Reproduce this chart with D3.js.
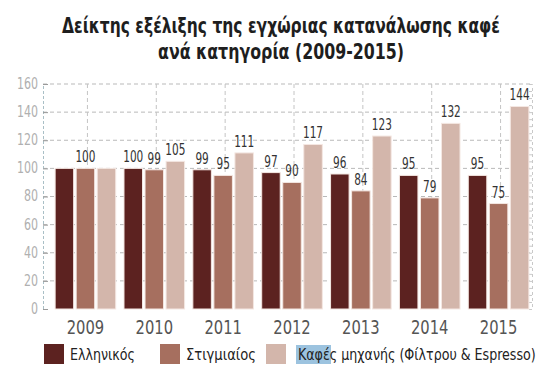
<!DOCTYPE html>
<html>
<head>
<meta charset="utf-8">
<script src="https://cdn.jsdelivr.net/npm/d3@7"></script>
<style>
  body { margin: 0; background: #fff; }
  svg { display: block; }
</style>
</head>
<body>
<div id="chart"></div>
<script>
// chart data
const years = ['2009', '2010', '2011', '2012', '2013', '2014', '2015'];
const seriesNames = ['Ελληνικός', 'Στιγμιαίος', 'Καφές μηχανής (Φίλτρου & Espresso)'];
const greek = [100, 100, 99, 97, 96, 95, 95];
const instant = [100, 99, 95, 90, 84, 79, 75];
const machine = [100, 105, 111, 117, 123, 132, 144];
const yTicks = [0, 20, 40, 60, 80, 100, 120, 140, 160];
// 2009 shows one shared label only (over the middle bar)
const hiddenLabels = [['2009', 0], ['2009', 2]];
const titleLines = ['Δείκτης εξέλιξης της εγχώριας κατανάλωσης καφέ', 'ανά κατηγορία (2009-2015)'];

const width = 543, height = 372;
const margins = {top: 84, right: 11, bottom: 63, left: 43};
const colors = ['#5c2220', '#a66f5f', '#d3b6ab'];
const font = '"DejaVu Sans Condensed", sans-serif';

/* squeeze a text horizontally around its x: the reference uses a narrow face.
   target is either a factor (<= 1) or a function giving a pixel width */
const squeeze = (sel, target) => sel.each(function(d, i) {
    const w = this.getComputedTextLength();
    const s = typeof target === 'function' ? target(d, i) / w : target;
    const x = +this.getAttribute('x') || 0;
    d3.select(this)
        .attr('transform', `translate(${x},0) scale(${s},1) translate(${-x},0)`);
});

const svg = d3.select('#chart')
    .append('svg')
    .attr('width', width)
    .attr('height', height);

/* title */
const titleWidths = [438, 246];
svg.append('g')
    .selectAll('text')
    .data(titleLines)
    .join('text')
    .attr('x', 281)
    .attr('y', (d, i) => 33 + i * 26)
    .attr('text-anchor', 'middle')
    .style('font-family', font)
    .style('font-weight', 'bold')
    .style('font-size', '21px')
    .style('fill', '#1e1e1e')
    .text(d => d)
    .call(squeeze, (d, i) => titleWidths[i]);

/* scales */
const yScale = d3.scaleLinear()
    .domain([0, 160])
    .range([height - margins.bottom, margins.top]);

const x0 = d3.scaleBand()
    .domain(years)
    .range([51, 533])
    .paddingInner(0.12)
    .paddingOuter(0.06);

const x1 = d3.scaleBand()
    .domain([0, 1, 2])
    .range([0, x0.bandwidth()])
    .paddingInner(0.12);

const color = d3.scaleOrdinal()
    .domain([0, 1, 2])
    .range(colors);

/* grid */
const grid = svg.append('g').attr('class', 'grid');
grid.selectAll('line.h')
    .data(yTicks.filter(d => d > 0))
    .join('line')
    .attr('class', 'h')
    .attr('x1', margins.left)
    .attr('x2', width - margins.right)
    .attr('y1', d => yScale(d))
    .attr('y2', d => yScale(d))
    .attr('stroke', '#b9b9b9')
    .attr('stroke-dasharray', '4,3');
grid.selectAll('line.v')
    .data(years)
    .join('line')
    .attr('class', 'v')
    .attr('x1', d => x0(d) + x0.bandwidth() / 2 + 2)
    .attr('x2', d => x0(d) + x0.bandwidth() / 2 + 2)
    .attr('y1', yScale(160))
    .attr('y2', yScale(0))
    .attr('stroke', '#c4c4c4')
    .attr('stroke-dasharray', '4,3');

/* axes */
const yAxis = d3.axisRight(yScale).tickValues(yTicks).tickSize(5).tickFormat('');
const yGroup = svg.append('g')
    .attr('transform', `translate(${margins.left},0)`)
    .call(yAxis);
yGroup.select('.domain')
    .attr('stroke', '#a9bfc6')
    .attr('stroke-dasharray', '3,2');
yGroup.selectAll('.tick line').attr('stroke', '#9a9a9a');

svg.append('g')
    .selectAll('text')
    .data(yTicks)
    .join('text')
    .attr('x', 38)
    .attr('y', d => yScale(d) + 5)
    .attr('text-anchor', 'end')
    .style('font-family', font)
    .style('font-size', '15px')
    .style('fill', '#b0b0b0')
    .text(d => d)
    .call(squeeze, 0.82);

const rGroup = svg.append('g')
    .attr('transform', `translate(${width - margins.right},0)`)
    .call(d3.axisLeft(yScale).ticks(32).tickSize(3).tickFormat(''));
rGroup.select('.domain')
    .attr('stroke', '#c9c9c9')
    .attr('stroke-dasharray', '3,3');
rGroup.selectAll('.tick line').attr('stroke', '#c9c9c9');

/* bars */
const rows = years.map((y, i) => ({year: y, values: [greek[i], instant[i], machine[i]]}));

const groups = svg.append('g')
    .attr('class', 'bars')
    .selectAll('g')
    .data(rows)
    .join('g')
    .attr('transform', d => `translate(${x0(d.year)},0)`);

groups.selectAll('rect')
    .data(d => d.values.map((v, k) => ({year: d.year, k: k, value: v})))
    .join('rect')
    .attr('x', d => x1(d.k))
    .attr('y', d => yScale(d.value))
    .attr('width', x1.bandwidth())
    .attr('height', d => yScale(0) - yScale(d.value))
    .attr('fill', d => color(d.k))
    .attr('stroke', '#f4e7e2')
    .attr('stroke-width', 1);

groups.selectAll('text')
    .data(d => d.values.map((v, k) => ({year: d.year, k: k, value: v}))
        .filter(e => !hiddenLabels.some(h => h[0] === e.year && h[1] === e.k)))
    .join('text')
    .attr('x', d => x1(d.k) + x1.bandwidth() / 2)
    .attr('y', d => yScale(d.value) - 6)
    .attr('text-anchor', 'middle')
    .style('font-family', font)
    .style('font-size', '15px')
    .style('fill', '#333')
    .text(d => d.value)
    .call(squeeze, 0.78);

/* year labels */
svg.append('g')
    .selectAll('text')
    .data(years)
    .join('text')
    .attr('x', d => x0(d) + x0.bandwidth() / 2)
    .attr('y', 334)
    .attr('text-anchor', 'middle')
    .style('font-family', font)
    .style('font-size', '20px')
    .style('fill', '#555')
    .text(d => d)
    .call(squeeze, 0.82);

/* legend */
const legendX = [44, 160, 266];
const legendWidths = [65, 70, 238];
const legend = svg.append('g')
    .selectAll('g')
    .data(seriesNames)
    .join('g')
    .attr('transform', (d, i) => `translate(${legendX[i]},344)`);

legend.append('rect')
    .attr('width', 20)
    .attr('height', 20)
    .attr('fill', (d, i) => colors[i]);

// selection highlight on the first word of the third entry
legend.filter((d, i) => i === 2)
    .append('rect')
    .attr('x', 30)
    .attr('y', 1)
    .attr('width', 35)
    .attr('height', 19)
    .attr('fill', '#9cc3df');

legend.append('text')
    .attr('x', (d, i) => i === 2 ? 32 : 26)
    .attr('y', 16)
    .style('font-family', font)
    .style('font-size', '16px')
    .style('fill', '#222')
    .text(d => d)
    .call(squeeze, (d, i) => legendWidths[i]);
</script>
</body>
</html>
